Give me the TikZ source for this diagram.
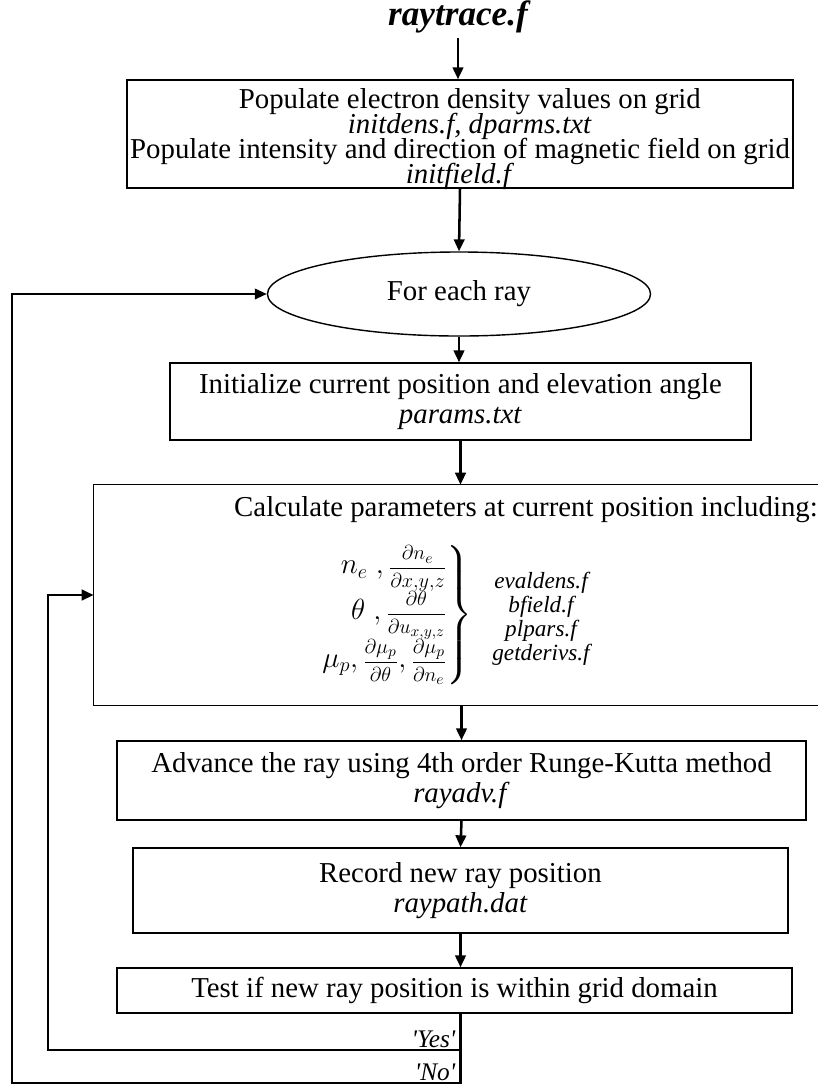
\documentclass[tikz,border=0pt]{standalone}
\usepackage{fontspec}
\usepackage{amsmath}
\setmainfont{Liberation Serif}
\usetikzlibrary{shapes.geometric,arrows.meta}
\setlength{\lineskiplimit}{-20pt}
\newcommand{\pfrac}[2]{\text{\fontsize{15.5}{17}\selectfont$\dfrac{#1}{#2}$}}

\begin{document}
\begin{tikzpicture}[x=0.025cm, y=-0.025cm,
  font=\fontsize{20.5}{17.8}\selectfont,
  box/.style={draw, line width=1pt, align=center, inner sep=0pt},
  arr/.style={-{Triangle[length=8.5pt,width=7.5pt]}, line width=1.8pt},
  yesline/.style={arr, line width=2pt},
  noline/.style={arr, line width=1.5pt},
  fname/.style={font=\fontsize{16.5}{17}\selectfont\itshape, align=center},
  lab/.style={font=\fontsize{18}{20}\selectfont\itshape, inner sep=1pt}
]
\useasboundingbox (0,0) rectangle (818,1088);
\node[font=\fontsize{25}{28}\selectfont\bfseries\itshape] (title) at (458,17) {raytrace.f};
\node[box, minimum width=16.65cm, minimum height=2.7cm] (b1) at (460,134) {};
\node[align=center, inner sep=0pt] (b1txt) at (460,139)
  {\hspace*{14pt}Populate electron density values on grid\\ \hspace*{14pt}\textit{initdens.f, dparms.txt}\\
   Populate intensity and direction of magnetic field on grid\\ \textit{initfield.f}};
\node[draw, ellipse, line width=1pt, minimum width=9.575cm, minimum height=2.1cm] (each) at (459,294) {For each ray};
\node[box, minimum width=14.525cm, minimum height=1.925cm] (b2) at (460.5,401.5)
  {Initialize current position and elevation angle\\[3pt] \textit{params.txt}};
\node[minimum width=18.1cm, minimum height=5.5cm, inner sep=0pt] (b3) at (456,595) {};
\draw[line width=1pt] (b3.north east) -- (b3.north west) -- (b3.south west) -- (b3.south east);
\node (hd) at (526,510) {Calculate parameters at current position including:};
\node[anchor=east, font=\fontsize{20}{21}\selectfont, inner sep=1pt] (pars) at (474,615)
  {$\left.\begin{array}{@{}r@{}}
     n_e\;,\pfrac{\partial n_e}{\partial x{,}y{,}z}\\[3pt]
     \theta\;,\pfrac{\partial\theta}{\partial u_{x{,}y{,}z}}\\[3pt]
     \mu_p,\pfrac{\partial\mu_p}{\partial\theta},\pfrac{\partial\mu_p}{\partial n_e}
   \end{array}\right\}$};
\node[fname] (files) at (541,619) {evaldens.f\\ bfield.f\\ plpars.f\\ getderivs.f};
\node[box, minimum width=17.225cm, minimum height=1.975cm] (b4) at (461.5,780.5)
  {Advance the ray using 4th order Runge-Kutta method\\[3pt] \textit{rayadv.f}};
\node[box, minimum width=16.375cm, minimum height=2.125cm] (b5) at (460.5,890.5)
  {Record new ray position\\[4pt] \textit{raypath.dat}};
\node[box, minimum width=16.875cm, minimum height=1.125cm] (b6) at (454.5,990.5)
  {Test if new ray position is within grid domain};
% main flow
\draw[arr] (title.south) -- (title.south |- b1.north);
\draw[arr] (b1.south) -- (each.north);
\draw[arr] (each.south) -- (each.south |- b2.north);
\draw[arr] (b2.south) -- (b2.south |- b3.north);
\draw[arr] (b4.north |- b3.south) -- (b4.north);
\draw[arr] (b4.south) -- (b5.north);
\draw[arr] (b5.south) -- (b5.south |- b6.north);
% loops back
\coordinate (yl) at (48,1050);
\coordinate (nl) at (12,1083);
\draw[yesline] (b5.south |- b6.south) |- (yl) |- (b3.west);
\draw[noline] (b5.south |- b6.south) |- (nl) |- (each.west);
\node[lab, anchor=south east] (yes) at (457,1049) {\textquotesingle Yes\textquotesingle};
\node[lab, anchor=south east] (no) at (457,1082) {\textquotesingle No\textquotesingle};
\end{tikzpicture}
\end{document}
